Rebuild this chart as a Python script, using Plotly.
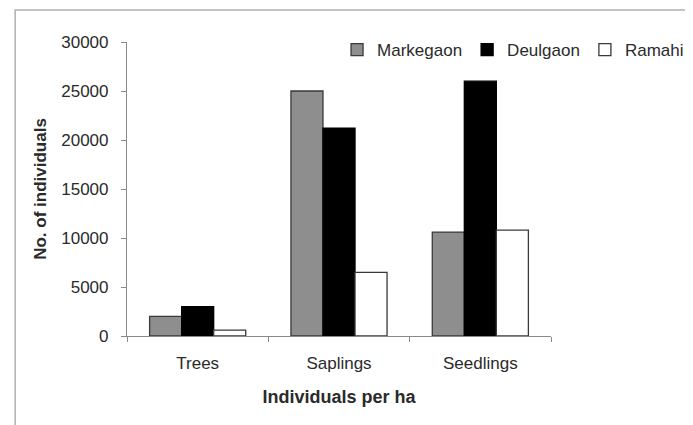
import plotly.graph_objects as go

categories = ["Trees", "Saplings", "Seedlings"]
markegaon = [2000, 25000, 10600]
deulgaon = [3000, 21200, 26000]
ramahi = [600, 6500, 10800]
series_names = ["Markegaon", "Deulgaon", "Ramahi"]
y_ticks = [0, 5000, 10000, 15000, 20000, 25000, 30000]

W, H = 693, 425
L, R, T, B = 119, 138, 34, 97
pw, ph = W - L - R, H - T - B

def px2x(p):
    return (p - L) / pw

def px2y(p):
    return (H - B - p) / ph

fig = go.Figure()
styles = [("#8e8e8e", "#3a3a3a"), ("#000000", "#000000"), ("#ffffff", "#3a3a3a")]
for name, vals, (fc, lc) in zip(series_names, [markegaon, deulgaon, ramahi], styles):
    fig.add_trace(go.Bar(x=categories, y=vals, name=name,
                         marker=dict(color=fc, line=dict(color=lc, width=1.3))))

fig.update_layout(
    width=W, height=H,
    margin=dict(l=L, r=R, t=T, b=B),
    paper_bgcolor="white", plot_bgcolor="white",
    barmode="group", bargap=0.32, bargroupgap=0,
    font=dict(family="Liberation Sans, Arial, sans-serif", size=17, color="#2a2a2a"),
    showlegend=True,
    legend=dict(orientation="h", x=px2x(335), y=px2y(42), xanchor="left", yanchor="middle",
                bgcolor="rgba(0,0,0,0)", font=dict(size=17), itemwidth=30,
                traceorder="normal"),
    xaxis=dict(showline=True, linecolor="#8a8a8a", linewidth=1.2, ticks="outside",
               tickson="boundaries", ticklen=5, tickcolor="#8a8a8a",
               ticklabelstandoff=11,
               showgrid=False, zeroline=False,
               title=dict(text="<b>Individuals per ha</b>", font=dict(size=18), standoff=18)),
    yaxis=dict(range=[0, 30000], tickvals=y_ticks, showline=True, linecolor="#8a8a8a",
               linewidth=1.2, ticks="outside", ticklen=5, tickcolor="#8a8a8a",
               ticklabelstandoff=9,
               showgrid=False, zeroline=False, tickformat="d",
               title=dict(text="<b>No. of individuals</b>", font=dict(size=17), standoff=10)),
    shapes=[dict(type="rect", xref="paper", yref="paper",
                 x0=px2x(4), x1=px2x(720), y0=px2y(440), y1=px2y(2),
                 line=dict(color="#b0b0b0", width=1.5), layer="below")],
)

fig.write_html("out.html")
